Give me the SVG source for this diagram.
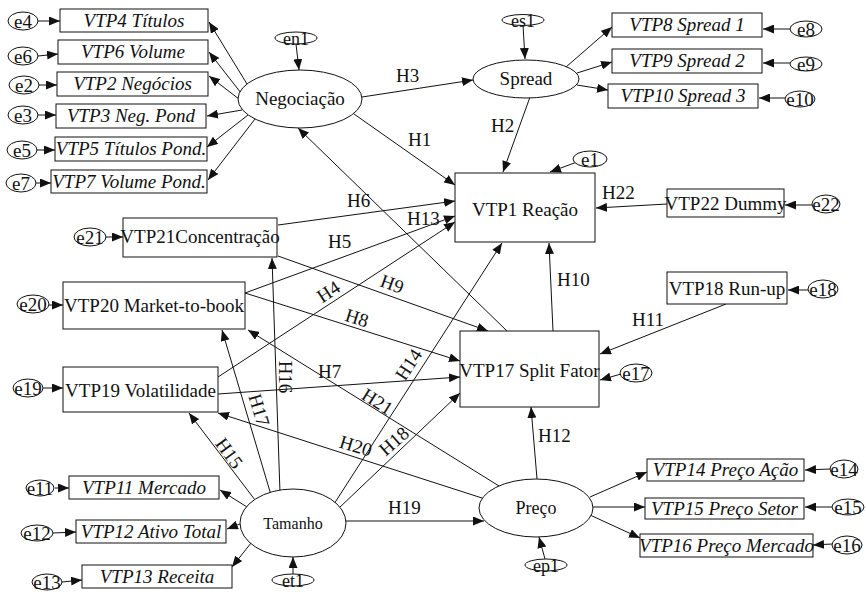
<svg xmlns="http://www.w3.org/2000/svg" width="866" height="594" viewBox="0 0 866 594">
  <style>
    .bg { fill: #fff; }
    .box { fill: #fff; stroke: #111; stroke-width: 1; }
    .lat { fill: #fff; stroke: #111; stroke-width: 1; }
    .err { fill: #fff; stroke: #111; stroke-width: 1; }
    .t { font-family: "Liberation Serif", "Times New Roman", serif; font-size: 19px; fill: #111; }
    .i { font-style: italic; }
    .c { text-anchor: middle; }
    .s { font-size: 18px; }
    .lbl { font-family: "Liberation Serif", "Times New Roman", serif; font-size: 19px; fill: #111; }
    .edge { fill: none; stroke: #111; stroke-width: 1; marker-end: url(#ah); }
  </style>
  <defs>
    <marker id="ah" markerUnits="userSpaceOnUse" markerWidth="12" markerHeight="9" refX="11" refY="4.5" orient="auto">
      <path d="M0,0 L11,4.5 L0,9 z" fill="#111"/>
    </marker>
  </defs>
  <rect class="bg" x="0" y="0" width="866" height="594"/>

  <!-- connectors -->
  <g id="connectors">
    <!-- Negociação indicators -->
    <line class="edge" x1="247" y1="84" x2="209" y2="22"/>
    <line class="edge" x1="241" y1="93" x2="209" y2="52"/>
    <line class="edge" x1="239" y1="99" x2="209" y2="76"/>
    <line class="edge" x1="242" y1="110" x2="207" y2="116"/>
    <line class="edge" x1="248" y1="115" x2="207" y2="147"/>
    <line class="edge" x1="255" y1="119" x2="208" y2="180"/>
    <!-- error terms, left indicators -->
    <line class="edge" x1="38" y1="21" x2="60" y2="21"/>
    <line class="edge" x1="38" y1="56" x2="58" y2="54"/>
    <line class="edge" x1="39" y1="85" x2="57" y2="85"/>
    <line class="edge" x1="38" y1="115" x2="56" y2="115"/>
    <line class="edge" x1="37" y1="150" x2="55" y2="150"/>
    <line class="edge" x1="36" y1="183" x2="51" y2="183"/>
    <line class="edge" x1="296" y1="44" x2="299" y2="70"/>
    <!-- Spread -->
    <line class="edge" x1="523" y1="25" x2="525" y2="59"/>
    <line class="edge" x1="566" y1="67" x2="612" y2="27"/>
    <line class="edge" x1="577" y1="73" x2="612" y2="62"/>
    <line class="edge" x1="577" y1="85" x2="608" y2="90"/>
    <line class="edge" x1="790" y1="29" x2="763" y2="29"/>
    <line class="edge" x1="790" y1="63" x2="763" y2="63"/>
    <line class="edge" x1="785" y1="98" x2="759" y2="98"/>
    <!-- structural paths -->
    <line class="edge" x1="362" y1="97" x2="473" y2="80"/>
    <line class="edge" x1="354" y1="114" x2="455" y2="185"/>
    <line class="edge" x1="530" y1="97" x2="503" y2="172"/>
    <line class="edge" x1="577" y1="162" x2="550" y2="172"/>
    <line class="edge" x1="667" y1="204" x2="596" y2="208"/>
    <line class="edge" x1="812" y1="205" x2="785" y2="205"/>
    <line class="edge" x1="278" y1="225" x2="455" y2="201"/>
    <line class="edge" x1="245" y1="293" x2="455" y2="216"/>
    <line class="edge" x1="218" y1="377" x2="455" y2="222"/>
    <line class="edge" x1="278" y1="256" x2="488" y2="331"/>
    <line class="edge" x1="245" y1="293" x2="460" y2="361"/>
    <line class="edge" x1="218" y1="394" x2="460" y2="377"/>
    <line class="edge" x1="553" y1="331" x2="549" y2="243"/>
    <line class="edge" x1="507" y1="331" x2="298" y2="128"/>
    <line class="edge" x1="726" y1="304" x2="600" y2="354"/>
    <line class="edge" x1="808" y1="290" x2="788" y2="290"/>
    <line class="edge" x1="621" y1="374" x2="600" y2="380"/>
    <!-- Tamanho -->
    <line class="edge" x1="334" y1="504" x2="502" y2="243"/>
    <line class="edge" x1="339" y1="508" x2="460" y2="393"/>
    <line class="edge" x1="280" y1="493" x2="272" y2="258"/>
    <line class="edge" x1="271" y1="495" x2="222" y2="330"/>
    <line class="edge" x1="255" y1="500" x2="189" y2="413"/>
    <line class="edge" x1="346" y1="521" x2="484" y2="521"/>
    <line class="edge" x1="247" y1="507" x2="220" y2="490"/>
    <line class="edge" x1="240" y1="524" x2="227" y2="529"/>
    <line class="edge" x1="251" y1="543" x2="232" y2="567"/>
    <line class="edge" x1="293" y1="575" x2="293" y2="557"/>
    <line class="edge" x1="55" y1="488" x2="69" y2="488"/>
    <line class="edge" x1="53" y1="533" x2="76" y2="532"/>
    <line class="edge" x1="62" y1="582" x2="82" y2="580"/>
    <!-- Preço -->
    <line class="edge" x1="499" y1="486" x2="248" y2="330"/>
    <line class="edge" x1="482" y1="498" x2="218" y2="413"/>
    <line class="edge" x1="537" y1="479" x2="531" y2="407"/>
    <line class="edge" x1="545" y1="559" x2="539" y2="537"/>
    <line class="edge" x1="590" y1="497" x2="647" y2="472"/>
    <line class="edge" x1="593" y1="507" x2="645" y2="507"/>
    <line class="edge" x1="590" y1="515" x2="640" y2="538"/>
    <line class="edge" x1="830" y1="469" x2="805" y2="470"/>
    <line class="edge" x1="832" y1="507" x2="805" y2="507"/>
    <line class="edge" x1="832" y1="544" x2="813" y2="545"/>
    <!-- exogenous observed errors -->
    <line class="edge" x1="106" y1="237" x2="123" y2="237"/>
    <line class="edge" x1="49" y1="305" x2="63" y2="305"/>
    <line class="edge" x1="43" y1="388" x2="63" y2="388"/>
  </g>

  <!-- path labels -->
  <g id="labels">
    <text class="lbl" x="396" y="82">H3</text>
    <text class="lbl" x="408" y="146">H1</text>
    <text class="lbl" x="491" y="132">H2</text>
    <text class="lbl" x="602" y="199">H22</text>
    <text class="lbl" x="347" y="207">H6</text>
    <text class="lbl" x="407" y="225">H13</text>
    <text class="lbl" x="328" y="248">H5</text>
    <text class="lbl" x="557" y="286">H10</text>
    <text class="lbl" x="632" y="326">H11</text>
    <text class="lbl" x="318" y="378">H7</text>
    <text class="lbl" x="538" y="442">H12</text>
    <text class="lbl" x="388" y="514">H19</text>
    <text class="lbl c" transform="translate(332,297) rotate(-33.5)">H4</text>
    <text class="lbl c" transform="translate(390,290) rotate(19.7)">H9</text>
    <text class="lbl c" transform="translate(355,324) rotate(17.5)">H8</text>
    <text class="lbl c" transform="translate(414,368) rotate(-57)">H14</text>
    <text class="lbl c" transform="translate(398,446) rotate(-41)">H18</text>
    <text class="lbl c" transform="translate(374,407) rotate(32)">H21</text>
    <text class="lbl c" transform="translate(354,452) rotate(17)">H20</text>
    <text class="lbl c" transform="translate(253,412) rotate(73)">H17</text>
    <text class="lbl c" transform="translate(279,377) rotate(90)">H16</text>
    <text class="lbl c" transform="translate(224,457) rotate(54)">H15</text>
  </g>

  <!-- Negociação block -->
  <g id="negociacao">
    <ellipse class="lat" cx="300" cy="99" rx="62" ry="29"/>
    <text class="t c" x="300" y="105">Negociação</text>
  </g>
  <g id="en1">
    <ellipse class="err" cx="296" cy="38" rx="21" ry="6"/>
    <text class="t s c" x="296" y="45">en1</text>
  </g>
  <g id="vtp4"><rect class="box" x="60" y="9" width="148" height="23"/><text class="t i c" x="134" y="27">VTP4 Títulos</text></g>
  <g id="vtp6"><rect class="box" x="58" y="40" width="150" height="24"/><text class="t i c" x="133" y="58">VTP6 Volume</text></g>
  <g id="vtp2"><rect class="box" x="57" y="72" width="151" height="24"/><text class="t i c" x="132.5" y="90">VTP2 Negócios</text></g>
  <g id="vtp3"><rect class="box" x="56" y="104" width="150" height="24"/><text class="t i c" x="131" y="122">VTP3 Neg. Pond</text></g>
  <g id="vtp5"><rect class="box" x="55" y="137" width="152" height="24"/><text class="t i c" x="131" y="155">VTP5 Títulos Pond.</text></g>
  <g id="vtp7"><rect class="box" x="51" y="170" width="156" height="23"/><text class="t i c" x="129" y="188">VTP7 Volume Pond.</text></g>
  <g id="e4"><ellipse class="err" cx="23" cy="21" rx="15" ry="9"/><text class="t c" x="23" y="28">e4</text></g>
  <g id="e6"><ellipse class="err" cx="23" cy="56" rx="15" ry="9"/><text class="t c" x="23" y="63">e6</text></g>
  <g id="e2"><ellipse class="err" cx="24" cy="85" rx="15" ry="9"/><text class="t c" x="24" y="92">e2</text></g>
  <g id="e3"><ellipse class="err" cx="23" cy="115" rx="15" ry="9"/><text class="t c" x="23" y="122">e3</text></g>
  <g id="e5"><ellipse class="err" cx="22" cy="150" rx="15" ry="9"/><text class="t c" x="22" y="157">e5</text></g>
  <g id="e7"><ellipse class="err" cx="21" cy="183" rx="15" ry="9"/><text class="t c" x="21" y="190">e7</text></g>

  <!-- Spread block -->
  <g id="spread">
    <ellipse class="lat" cx="526" cy="79" rx="53" ry="19"/>
    <text class="t c" x="526" y="85">Spread</text>
  </g>
  <g id="es1">
    <ellipse class="err" cx="523" cy="20" rx="21" ry="5.5"/>
    <text class="t s c" x="523" y="27">es1</text>
  </g>
  <g id="vtp8"><rect class="box" x="612" y="13" width="150" height="24"/><text class="t i c" x="687" y="31">VTP8 Spread 1</text></g>
  <g id="vtp9"><rect class="box" x="612" y="49" width="150" height="24"/><text class="t i c" x="687" y="67">VTP9 Spread 2</text></g>
  <g id="vtp10"><rect class="box" x="608" y="84" width="150" height="24"/><text class="t i c" x="683" y="102">VTP10 Spread 3</text></g>
  <g id="e8"><ellipse class="err" cx="806" cy="29" rx="16" ry="8"/><text class="t c" x="806" y="36">e8</text></g>
  <g id="e9"><ellipse class="err" cx="806" cy="64" rx="16" ry="7"/><text class="t c" x="806" y="71">e9</text></g>
  <g id="e10"><ellipse class="err" cx="800" cy="99" rx="15" ry="8"/><text class="t c" x="800" y="106">e10</text></g>

  <!-- outcome variables -->
  <g id="vtp1"><rect class="box" x="455" y="173" width="140" height="69"/><text class="t c" x="525" y="216">VTP1 Reação</text></g>
  <g id="e1"><ellipse class="err" cx="590" cy="159" rx="17" ry="8"/><text class="t c" x="590" y="166">e1</text></g>
  <g id="vtp22"><rect class="box" x="667" y="189" width="117" height="28"/><text class="t c" x="725.5" y="210">VTP22 Dummy</text></g>
  <g id="e22"><ellipse class="err" cx="826" cy="204" rx="14" ry="9"/><text class="t c" x="826" y="211">e22</text></g>
  <g id="vtp18"><rect class="box" x="667" y="272" width="120" height="32"/><text class="t c" x="727" y="295">VTP18 Run-up</text></g>
  <g id="e18"><ellipse class="err" cx="823" cy="289" rx="15" ry="9"/><text class="t c" x="823" y="296">e18</text></g>
  <g id="vtp17"><rect class="box" x="460" y="331" width="139" height="76"/><text class="t c" x="529.5" y="377">VTP17 Split Fator</text></g>
  <g id="e17"><ellipse class="err" cx="636" cy="373" rx="16" ry="9"/><text class="t c" x="636" y="380">e17</text></g>

  <!-- firm characteristics -->
  <g id="vtp21"><rect class="box" x="123" y="218" width="154" height="39"/><text class="t c" x="200" y="243">VTP21Concentração</text></g>
  <g id="e21"><ellipse class="err" cx="90" cy="237" rx="16" ry="9"/><text class="t c" x="90" y="244">e21</text></g>
  <g id="vtp20"><rect class="box" x="63" y="282" width="182" height="47"/><text class="t c" x="154" y="312">VTP20 Market-to-book</text></g>
  <g id="e20"><ellipse class="err" cx="33" cy="304" rx="16" ry="9"/><text class="t c" x="33" y="311">e20</text></g>
  <g id="vtp19"><rect class="box" x="63" y="367" width="155" height="45"/><text class="t c" x="140.5" y="397">VTP19 Volatilidade</text></g>
  <g id="e19"><ellipse class="err" cx="28" cy="388" rx="15" ry="9"/><text class="t c" x="28" y="395">e19</text></g>

  <!-- Tamanho block -->
  <g id="tamanho">
    <ellipse class="lat" cx="293" cy="523" rx="53" ry="34"/>
    <text class="t c" style="font-size:16px" x="293" y="529">Tamanho</text>
  </g>
  <g id="et1">
    <ellipse class="err" cx="293" cy="580" rx="21" ry="6"/>
    <text class="t s c" x="293" y="587">et1</text>
  </g>
  <g id="vtp11"><rect class="box" x="69" y="476" width="150" height="23"/><text class="t i c" x="144" y="494">VTP11 Mercado</text></g>
  <g id="vtp12"><rect class="box" x="76" y="520" width="150" height="23"/><text class="t i c" x="151" y="538">VTP12 Ativo Total</text></g>
  <g id="vtp13"><rect class="box" x="82" y="565" width="150" height="23"/><text class="t i c" x="157" y="583">VTP13 Receita</text></g>
  <g id="e11"><ellipse class="err" cx="40" cy="488" rx="14" ry="8"/><text class="t c" x="40" y="495">e11</text></g>
  <g id="e12"><ellipse class="err" cx="37" cy="533" rx="16" ry="8"/><text class="t c" x="37" y="540">e12</text></g>
  <g id="e13"><ellipse class="err" cx="47" cy="582" rx="15" ry="8"/><text class="t c" x="47" y="589">e13</text></g>

  <!-- Preço block -->
  <g id="preco">
    <ellipse class="lat" cx="536" cy="508" rx="57" ry="29"/>
    <text class="t c" style="font-size:18px" x="536" y="514">Preço</text>
  </g>
  <g id="ep1">
    <ellipse class="err" cx="546" cy="565" rx="21" ry="6"/>
    <text class="t s c" x="546" y="572">ep1</text>
  </g>
  <g id="vtp14"><rect class="box" x="647" y="459" width="157" height="22"/><text class="t i c" x="725.5" y="476">VTP14 Preço Ação</text></g>
  <g id="vtp15"><rect class="box" x="645" y="498" width="159" height="21"/><text class="t i c" x="724.5" y="515">VTP15 Preço Setor</text></g>
  <g id="vtp16"><rect class="box" x="640" y="534" width="173" height="23"/><text class="t i c" x="726.5" y="552">VTP16 Preço Mercado</text></g>
  <g id="e14"><ellipse class="err" cx="844" cy="469" rx="14" ry="9"/><text class="t c" x="844" y="476">e14</text></g>
  <g id="e15"><ellipse class="err" cx="848" cy="507" rx="16" ry="8"/><text class="t c" x="848" y="514">e15</text></g>
  <g id="e16"><ellipse class="err" cx="847" cy="545" rx="15" ry="9"/><text class="t c" x="847" y="552">e16</text></g>
</svg>
